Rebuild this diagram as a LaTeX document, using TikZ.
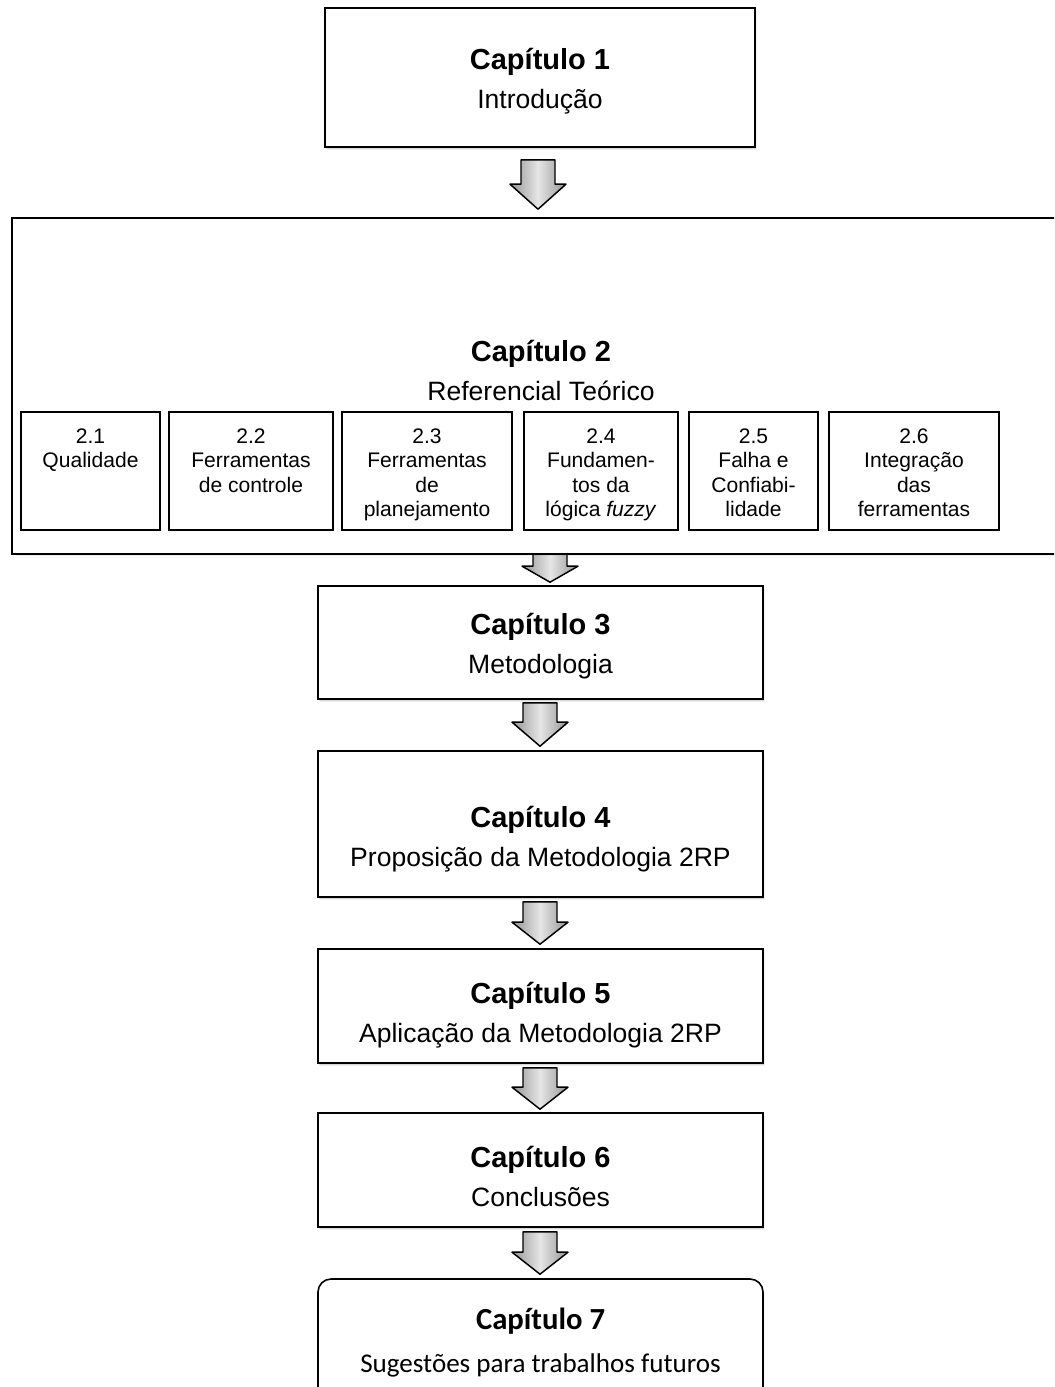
\documentclass[tikz,border=0pt]{standalone}
\usepackage{fontspec}
\setmainfont{Liberation Sans}
\newfontfamily\calfont{Carlito}
\usetikzlibrary{calc,shadows,backgrounds}

% one drawing unit = one pixel of the layout grid
\def\pu{0.75pt}
\newcommand\chaptitle[1]{{\bfseries\fontsize{21.75}{29.25}\selectfont #1}}

% block arrow: #1 source, #2 target, #3 gap below source,
% #4 gap above target, #5 horizontal offset, #6 head length
\newcommand\flowarrow[6]{%
  \coordinate (fa-top) at ($(#1.south)+(0,#3)$);
  \coordinate (fa-tip) at ($(#2.north)+(#5,-#4)$);
  \path[flow] ($(fa-tip |- fa-top)+(-17,0)$) -- ($(fa-tip |- fa-top)+(17,0)$)
    -- ($(fa-tip)+(17,-#6)$) -- ($(fa-tip)+(28,-#6)$) -- (fa-tip)
    -- ($(fa-tip)+(-28,-#6)$) -- ($(fa-tip)+(-17,-#6)$) -- cycle;
}

\tikzset{
  x=0.75pt, y=-0.75pt,
  softshadow/.style={
    general shadow={fill=black, opacity=.10, shadow xshift=.6pt, shadow yshift=-1.2pt},
    general shadow={fill=black, opacity=.06, shadow xshift=1.2pt, shadow yshift=-2.6pt}},
  chapbox/.style={draw=black, line width=1.2pt, fill=white, softshadow,
    minimum width=445*\pu, inner sep=0pt},
  chaptxt/.style={align=center, inner sep=0pt,
    font=\fontsize{19.9}{29.25}\selectfont},
  subbox/.style={draw=black, line width=1.1pt, fill=white,
    minimum height=118*\pu, inner sep=0pt},
  subtxt/.style={anchor=north, align=center, inner sep=0pt,
    font=\fontsize{15.8}{18.3}\selectfont},
  flow/.style={draw=black, line width=1.1pt, line join=round,
    left color=black!42, right color=black!42, middle color=black!10},
}

\begin{document}
\begin{tikzpicture}
\useasboundingbox (0,0) rectangle (1054,1387);
\clip (0,0) rectangle (1054,1387);

% chapter 1
\node[chapbox, minimum width=430*\pu, minimum height=139*\pu,
  label={[chaptxt, yshift=-4*\pu]center:{\chaptitle{Capítulo 1}\\Introdução}}]
  (c1) at (540,77.5) {};

% chapter 2: the frame runs off the right edge of the page
\node[chapbox, draw=none, minimum width=1090*\pu, minimum height=334*\pu] (c2) at (558,386) {};
\draw[line width=1.2pt] (c2.north east) -- (c2.north west) -- (c2.south west) -- (c2.south east);
\node[chaptxt] (c2t) at (541,370) {\chaptitle{Capítulo 2}\\Referencial Teórico};

\node[subbox, minimum width=139*\pu,
  label={[subtxt, yshift=-17*\pu]north:{2.1\\Qualidade}}] (s1) at (90.5,471) {};
\node[subbox, minimum width=164*\pu,
  label={[subtxt, yshift=-17*\pu]north:{2.2\\Ferramentas\\de controle}}] (s2) at (251,471) {};
\node[subbox, minimum width=170*\pu,
  label={[subtxt, yshift=-17*\pu]north:{2.3\\Ferramentas\\de\\planejamento}}] (s3) at (427,471) {};
\node[subbox, minimum width=154*\pu,
  label={[subtxt, yshift=-17*\pu]north:{2.4\\Fundamen-\\tos da\\lógica \textit{fuzzy}}}] (s4) at (601,471) {};
\node[subbox, minimum width=129*\pu,
  label={[subtxt, yshift=-17*\pu]north:{2.5\\Falha e\\Confiabi-\\lidade}}] (s5) at (753.5,471) {};
\node[subbox, minimum width=170*\pu,
  label={[subtxt, yshift=-17*\pu]north:{2.6\\Integração\\das\\ferramentas}}] (s6) at (914,471) {};

% chapters 3 to 6
\node[chapbox, minimum height=113*\pu,
  label={[chaptxt, yshift=-3.5*\pu]center:{\chaptitle{Capítulo 3}\\Metodologia}}]
  (c3) at (540.5,642.5) {};
\node[chapbox, minimum height=146*\pu,
  label={[chaptxt, yshift=-15*\pu]center:{\chaptitle{Capítulo 4}\\Proposição da Metodologia 2RP}}]
  (c4) at (540.5,824) {};
\node[chapbox, minimum height=114*\pu,
  label={[chaptxt, yshift=-9*\pu]center:{\chaptitle{Capítulo 5}\\Aplicação da Metodologia 2RP}}]
  (c5) at (540.5,1006) {};
\node[chapbox, minimum height=114*\pu,
  label={[chaptxt, yshift=-6*\pu]center:{\chaptitle{Capítulo 6}\\Conclusões}}]
  (c6) at (540.5,1170) {};

% chapter 7
\node[chapbox, rounded corners=13*\pu, minimum height=131*\pu,
  label={[align=center, inner sep=0pt, yshift=2*\pu,
    font=\calfont\fontsize{20.3}{32}\selectfont]center:{{\bfseries\fontsize{23}{32}\selectfont Capítulo 7}\\Sugestões para trabalhos futuros}}]
  (c7) at (540.5,1344.5) {};

% white page behind everything, then the block arrows between chapters
\begin{scope}[on background layer]
  \fill[white] (0,0) rectangle (1054,1387);
  \flowarrow{c1}{c2}{12}{9}{-20}{25}
  \flowarrow{c2}{c3}{-2}{3}{9.5}{16}
  \flowarrow{c3}{c4}{3}{4}{-0.5}{24}
  \flowarrow{c4}{c5}{4}{4}{-0.5}{22}
  \flowarrow{c5}{c6}{4}{3}{-0.5}{22}
  \flowarrow{c6}{c7}{4}{4}{-0.5}{22}
\end{scope}
\end{tikzpicture}
\end{document}
